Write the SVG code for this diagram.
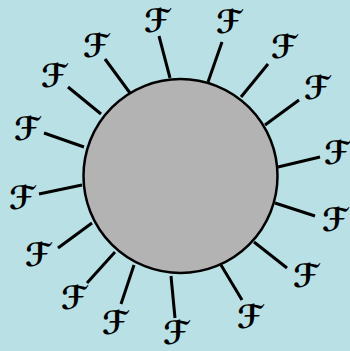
<svg xmlns="http://www.w3.org/2000/svg" width="350" height="351" viewBox="0 0 350 351">
<style>
.c{stroke:#000;stroke-width:3;stroke-linecap:butt;fill:none}
.l{font-family:"DejaVu Sans",sans-serif;font-weight:bold;font-size:32px;text-anchor:middle;dominant-baseline:central;fill:#000}
</style>
<rect width="350" height="351" fill="#b9e0e4"/>
<g id="connectors">
<line class="c" x1="159" y1="36" x2="170" y2="78"/>
<line class="c" x1="222" y1="42" x2="208" y2="82"/>
<line class="c" x1="268" y1="64" x2="241" y2="97"/>
<line class="c" x1="299" y1="100" x2="265" y2="125"/>
<line class="c" x1="320" y1="157" x2="278" y2="167"/>
<line class="c" x1="315" y1="216" x2="275" y2="203"/>
<line class="c" x1="287" y1="268" x2="254" y2="242"/>
<line class="c" x1="242" y1="300" x2="221" y2="265"/>
<line class="c" x1="175" y1="318" x2="171" y2="276"/>
<line class="c" x1="121" y1="304" x2="134" y2="265"/>
<line class="c" x1="87" y1="283" x2="115" y2="252"/>
<line class="c" x1="58" y1="248" x2="92" y2="223"/>
<line class="c" x1="39" y1="194" x2="82" y2="185"/>
<line class="c" x1="44" y1="133" x2="84" y2="147"/>
<line class="c" x1="68" y1="87" x2="101" y2="114"/>
<line class="c" x1="105" y1="59" x2="130" y2="93"/>
</g>
<g id="sphere">
<circle cx="180.5" cy="176" r="97" fill="#b3b3b3" stroke="#000" stroke-width="2.5"/>
</g>
<g id="labels">
<text class="l" x="157" y="21">ℱ</text>
<text class="l" x="229" y="22">ℱ</text>
<text class="l" x="284" y="47">ℱ</text>
<text class="l" x="317" y="88">ℱ</text>
<text class="l" x="337" y="153">ℱ</text>
<text class="l" x="335" y="220">ℱ</text>
<text class="l" x="306" y="276">ℱ</text>
<text class="l" x="250" y="317">ℱ</text>
<text class="l" x="176" y="333">ℱ</text>
<text class="l" x="115" y="323">ℱ</text>
<text class="l" x="74" y="298">ℱ</text>
<text class="l" x="38" y="255">ℱ</text>
<text class="l" x="22" y="198">ℱ</text>
<text class="l" x="27" y="129">ℱ</text>
<text class="l" x="54" y="76">ℱ</text>
<text class="l" x="96" y="46">ℱ</text>
</g>
</svg>
